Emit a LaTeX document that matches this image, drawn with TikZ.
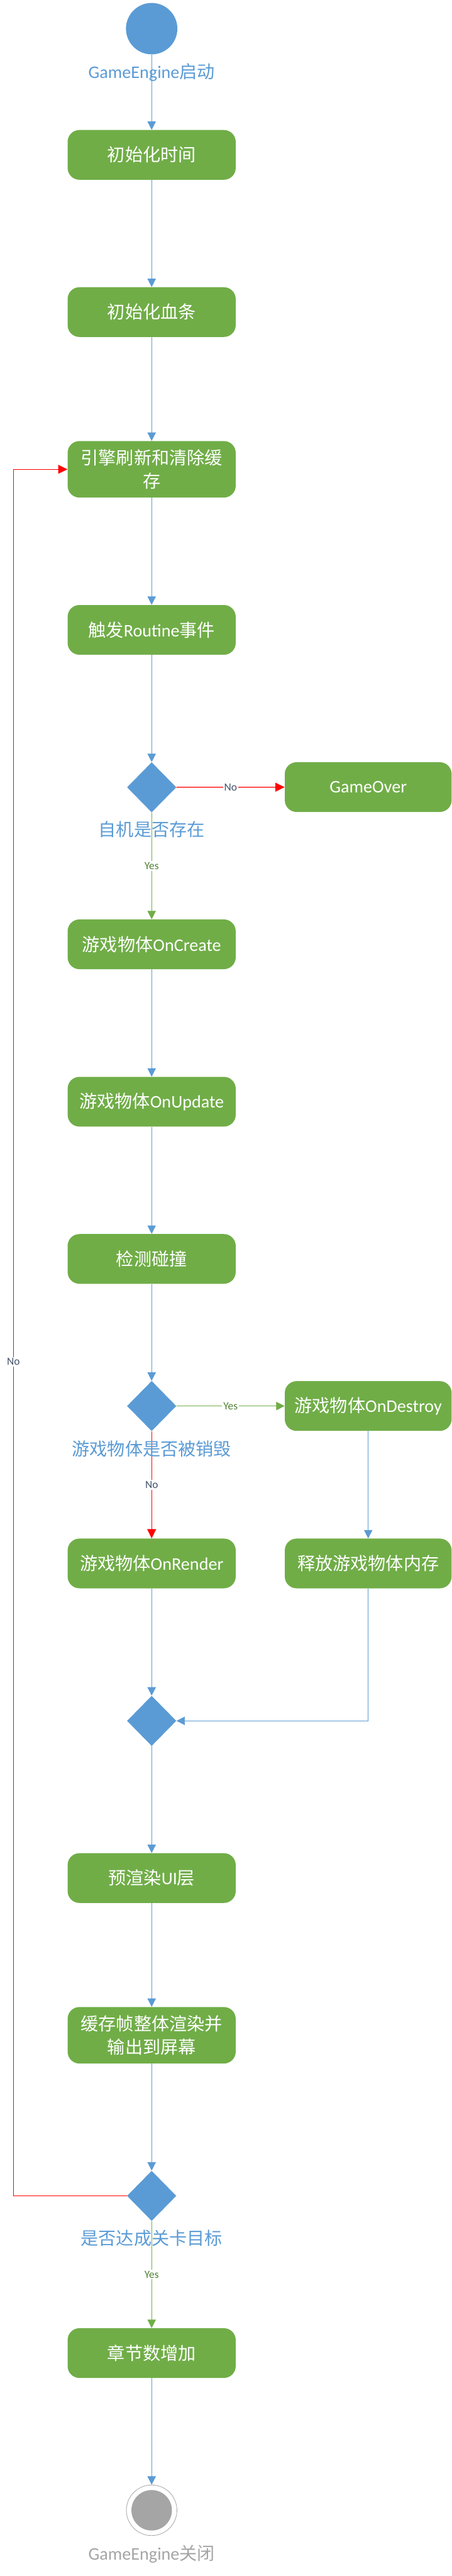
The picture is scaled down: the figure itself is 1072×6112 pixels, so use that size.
\documentclass[tikz,border=0pt]{standalone}
\usepackage{fontspec}
\setmainfont{Carlito}
\newfontfamily\cjk{Noto Sans CJK SC}
\usetikzlibrary{shapes.geometric,arrows.meta}
\newcommand{\zhs}[1]{{\cjk #1}}
\definecolor{oblue}{HTML}{5B9BD5}
\definecolor{ogreen}{HTML}{70AD47}
\definecolor{ored}{HTML}{FF0000}
\definecolor{ogray}{HTML}{A5A5A5}
\definecolor{nocol}{HTML}{44546A}
\definecolor{yescol}{HTML}{538135}
\tikzset{
  box/.style={rectangle, rounded corners=14pt, fill=ogreen, text=white,
    minimum width=199.5pt, minimum height=59pt, inner sep=0pt, align=center,
    font=\fontsize{21}{27.5}\selectfont},
  rbox/.style={box, minimum width=198pt},
  tallbox/.style={box, minimum height=67pt},
  decis/.style={diamond, fill=oblue, minimum width=58.5pt, minimum height=59.5pt, inner sep=0pt},
  biglbl/.style={font=\fontsize{21}{25}\selectfont, inner sep=0pt},
  flow/.style={draw=oblue, line width=0.75pt, -{Triangle[length=10pt,width=10pt]}},
  noflow/.style={draw=ored, line width=1pt, -{Triangle[length=11pt,width=10.5pt]}},
  yesflow/.style={draw=ogreen, line width=0.9pt, -{Triangle[length=10pt,width=10pt]}},
  nolbl/.style={text=nocol, fill=white, inner sep=1.5pt, font=\fontsize{13}{15}\selectfont},
  yeslbl/.style={text=yescol, fill=white, inner sep=1.5pt, font=\fontsize{13}{15}\selectfont},
}
\begin{document}
\begin{tikzpicture}[x=0.5pt,y=-0.5pt]
\useasboundingbox (0,0) rectangle (1072,6112);
% start
\node[circle, fill=oblue, minimum size=61pt, inner sep=0pt] (start) at (360,68) {};
% boxes
\node[box] (b1) at (360,367.5) {\zhs{初始化时间}};
\node[box] (b2) at (360,740.5) {\zhs{初始化血条}};
\node[tallbox] (b3) at (360,1113.5) {\zhs{引擎刷新和清除缓}\\\zhs{存}};
\node[box] (b4) at (360,1494.5) {\zhs{触发}Routine\zhs{事件}};
\node[decis] (d1) at (360,1868) {};
\node[rbox] (over) at (874,1867.5) {GameOver};
\node[box] (b5) at (360,2240.5) {\zhs{游戏物体}OnCreate};
\node[box] (b6) at (360,2614) {\zhs{游戏物体}OnUpdate};
\node[box] (b7) at (360,2987) {\zhs{检测碰撞}};
\node[decis] (d2) at (360,3336) {};
\node[rbox] (destroy) at (874,3336) {\zhs{游戏物体}OnDestroy};
\node[box] (b8) at (360,3709.5) {\zhs{游戏物体}OnRender};
\node[rbox] (release) at (874,3709.5) {\zhs{释放游戏物体内存}};
\node[decis] (d3) at (360,4083) {};
\node[box] (b10) at (360,4456) {\zhs{预渲染}UI\zhs{层}};
\node[tallbox] (b11) at (360,4829) {\zhs{缓存帧整体渲染并}\\\zhs{输出到屏幕}};
\node[decis] (d4) at (360,5210) {};
\node[box] (b12) at (360,5583) {\zhs{章节数增加}};
% end
\node[circle, draw=ogray, line width=0.6pt, minimum size=60pt, inner sep=0pt] (endo) at (360,5956) {};
\node[circle, fill=ogray, minimum size=48pt, inner sep=0pt] (endi) at (360,5956) {};
% connectors
\draw[flow] (start) -- (b1);
\draw[flow] (b1) -- (b2);
\draw[flow] (b2) -- (b3);
\draw[flow] (b3) -- (b4);
\draw[flow] (b4) -- (d1);
\draw[noflow] (d1) -- node[nolbl]{No} (over);
\draw[yesflow] (d1) -- node[yeslbl]{Yes} (b5);
\draw[flow] (b5) -- (b6);
\draw[flow] (b6) -- (b7);
\draw[flow] (b7) -- (d2);
\draw[yesflow] (d2) -- node[yeslbl]{Yes} (destroy);
\draw[noflow] (d2) -- node[nolbl]{No} (b8);
\draw[flow, line width=0.6pt] (destroy) -- (release);
\draw[flow] (b8) -- (d3);
\draw[flow, line width=0.6pt] (release.south) |- (d3.east);
\draw[flow] (d3) -- (b10);
\draw[flow] (b10) -- (b11);
\draw[flow] (b11) -- (d4);
\coordinate (loopc) at (32,5210);
\draw[noflow] (d4.west) -- (loopc) |- (b3.west);
\node[nolbl] (noloop) at (32,3231) {No};
\draw[yesflow] (d4) -- node[yeslbl]{Yes} (b12);
\draw[flow] (b12) -- (endo);
% text labels (drawn over lines)
\node[biglbl, text=oblue] (startlbl) at (360,172) {GameEngine\zhs{启动}};
\node[biglbl, text=oblue] (d1lbl) at (360,1968) {\zhs{自机是否存在}};
\node[biglbl, text=oblue] (d2lbl) at (360,3438) {\zhs{游戏物体是否被销毁}};
\node[biglbl, text=oblue] (d4lbl) at (360,5311) {\zhs{是否达成关卡目标}};
\node[biglbl, text=ogray] (endlbl) at (360,6060) {GameEngine\zhs{关闭}};
\end{tikzpicture}
\end{document}
